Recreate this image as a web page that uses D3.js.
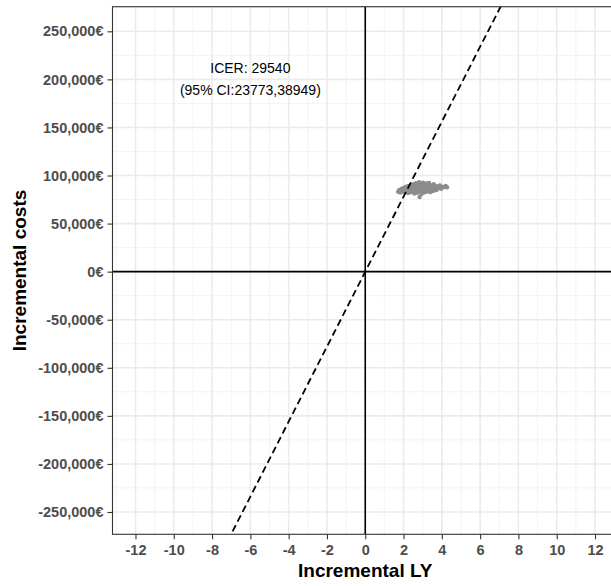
<!DOCTYPE html>
<html>
<head>
<meta charset="utf-8">
<script src="https://cdn.jsdelivr.net/npm/d3@7"></script>
<style>
  body { margin: 0; background: white; }
  text { font-family: "Liberation Sans", Arial, sans-serif; }
</style>
</head>
<body>
<div id="viz"></div>
<script>
// incremental life years / incremental costs of the simulations
var incLY = [1.72,1.78,1.84,1.90,1.95,2.00,2.03,2.08,2.12,2.15,2.19,2.23,2.26,2.30,2.33,2.36,
    2.40,2.43,2.46,2.49,2.52,2.55,2.57,2.60,2.63,2.65,2.68,2.71,2.73,2.76,2.79,2.82,2.84,2.86,
    2.89,2.91,2.94,2.96,2.99,3.02,3.04,3.07,3.10,3.13,3.15,3.18,3.21,3.24,3.27,3.30,3.33,3.36,
    3.39,3.42,3.46,3.50,3.54,3.58,3.62,3.67,3.72,3.78,3.84,3.90,3.97,4.05,4.12,4.20,4.27,
    2.25,2.45,2.58,2.70,2.78,2.92,3.00,3.12,3.25,3.35,3.48,2.62,2.88,3.08,3.20,2.40,2.15,2.50];
var incCosts = [83100,85000,82400,86200,84000,87100,82900,85600,88400,83700,86900,81800,89200,84800,87600,82500,
    90100,85900,88700,83200,91000,86400,81200,89500,84300,92000,87300,82000,90600,85100,88000,93100,77600,83600,
    91400,86700,80900,89900,84600,92500,87800,82300,90300,85400,88900,83000,91700,86100,89300,84100,92200,87000,
    82700,90000,85700,88200,83800,91000,86500,89000,84900,88700,87000,89600,86300,88200,87900,89100,87800,
    86000,84000,87000,85500,90000,88000,86000,87500,84500,89500,86800,82800,84000,83500,90800,87500,85500,89000];

var xTicks = [-12,-10,-8,-6,-4,-2,0,2,4,6,8,10,12],
    yTicks = [-250000,-200000,-150000,-100000,-50000,0,50000,100000,150000,200000,250000];

var icer = 29540, ciLow = 23773, ciHigh = 38949;
var wtp = 39000; // threshold line slope
var annotX = -6, annotY = 200000;

var width = 611,
    height = 586,
    panel = { left: 112.5, right: 618, top: 6.7, bottom: 534.3 };

var xScale = d3.scaleLinear().domain([-13.2, 13.2]).range([panel.left, panel.right]);
var yScale = d3.scaleLinear().domain([-273200, 275600]).range([panel.bottom, panel.top]);

var svg = d3.select('#viz').append('svg')
    .attr('width', width)
    .attr('height', height);

svg.append('defs').append('clipPath').attr('id', 'clip')
  .append('rect')
    .attr('x', panel.left).attr('y', panel.top)
    .attr('width', panel.right - panel.left)
    .attr('height', panel.bottom - panel.top);

var plot = svg.append('g').attr('clip-path', 'url(#clip)');

// minor grid
var xMinor = d3.range(-13, 14, 1).filter(function(d) { return d % 2 !== 0; });
var yMinor = d3.range(-275000, 275001, 25000).filter(function(d) { return d % 50000 !== 0; });

plot.selectAll('.xminor').data(xMinor).enter().append('line')
    .attr('x1', function(d) { return xScale(d); }).attr('x2', function(d) { return xScale(d); })
    .attr('y1', panel.top).attr('y2', panel.bottom)
    .attr('stroke', '#f2f2f2').attr('stroke-width', 0.9);
plot.selectAll('.yminor').data(yMinor).enter().append('line')
    .attr('y1', function(d) { return yScale(d); }).attr('y2', function(d) { return yScale(d); })
    .attr('x1', panel.left).attr('x2', panel.right)
    .attr('stroke', '#f2f2f2').attr('stroke-width', 0.9);

// major grid
plot.selectAll('.xmajor').data(xTicks).enter().append('line')
    .attr('x1', function(d) { return xScale(d); }).attr('x2', function(d) { return xScale(d); })
    .attr('y1', panel.top).attr('y2', panel.bottom)
    .attr('stroke', '#ebebeb').attr('stroke-width', 1.6);
plot.selectAll('.ymajor').data(yTicks).enter().append('line')
    .attr('y1', function(d) { return yScale(d); }).attr('y2', function(d) { return yScale(d); })
    .attr('x1', panel.left).attr('x2', panel.right)
    .attr('stroke', '#ebebeb').attr('stroke-width', 1.6);

// zero axes
plot.append('line')
    .attr('x1', xScale(0)).attr('x2', xScale(0))
    .attr('y1', panel.top).attr('y2', panel.bottom)
    .attr('stroke', 'black').attr('stroke-width', 1.6);
plot.append('line')
    .attr('y1', yScale(0)).attr('y2', yScale(0))
    .attr('x1', panel.left).attr('x2', panel.right)
    .attr('stroke', 'black').attr('stroke-width', 1.6);

// points
plot.selectAll('circle').data(incLY).enter().append('circle')
    .attr('cx', function(d) { return xScale(d); })
    .attr('cy', function(d, i) { return yScale(incCosts[i]); })
    .attr('r', 2.2)
    .attr('fill', '#8c8c8c');

// threshold line
plot.append('line')
    .attr('x1', xScale(-13.2)).attr('y1', yScale(-13.2 * wtp))
    .attr('x2', xScale(13.2)).attr('y2', yScale(13.2 * wtp))
    .attr('stroke', 'black').attr('stroke-width', 1.8)
    .attr('stroke-dasharray', '7,4');

// annotation
var annot = plot.append('text')
    .attr('x', xScale(annotX))
    .attr('y', yScale(annotY))
    .attr('text-anchor', 'middle')
    .style('font-size', '14px')
    .attr('fill', 'black');
annot.append('tspan').attr('x', xScale(annotX)).attr('dy', '-0.45em')
    .text('ICER: ' + icer);
annot.append('tspan').attr('x', xScale(annotX)).attr('dy', '1.55em')
    .text('(95% CI:' + ciLow + ',' + ciHigh + ')');

// panel border
svg.append('rect')
    .attr('x', panel.left).attr('y', panel.top)
    .attr('width', panel.right - panel.left)
    .attr('height', panel.bottom - panel.top)
    .attr('fill', 'none')
    .attr('stroke', '#333333').attr('stroke-width', 1.1);

// axes (plain hyphen for negatives, like the original)
var fmt = d3.formatLocale({ decimal: '.', thousands: ',', grouping: [3], currency: ['', '€'], minus: '-' }).format(',');
var xAxis = svg.append('g')
    .attr('transform', 'translate(0,' + panel.bottom + ')')
    .call(d3.axisBottom(xScale).tickValues(xTicks).tickSize(5).tickPadding(5)
        .tickFormat(function(d) { return fmt(d); }));
var yAxis = svg.append('g')
    .attr('transform', 'translate(' + panel.left + ',0)')
    .call(d3.axisLeft(yScale).tickValues(yTicks).tickSize(5).tickPadding(4)
        .tickFormat(function(d) { return fmt(d) + '€'; }));

[xAxis, yAxis].forEach(function(ax) {
    ax.select('.domain').remove();
    ax.selectAll('line').attr('stroke', '#333333').attr('stroke-width', 1.1);
    ax.selectAll('text')
        .attr('fill', '#4d4d4d')
        .style('font-size', '14.5px')
        .style('font-weight', 'bold')
        .style('font-family', '"Liberation Sans", Arial, sans-serif');
});

// axis titles
svg.append('text')
    .attr('x', (panel.left + panel.right) / 2)
    .attr('y', 577)
    .attr('text-anchor', 'middle')
    .style('font-size', '19px')
    .style('font-weight', 'bold')
    .text('Incremental LY');

svg.append('text')
    .attr('transform', 'translate(26,' + (panel.top + panel.bottom) / 2 + ') rotate(-90)')
    .attr('text-anchor', 'middle')
    .style('font-size', '19px')
    .style('font-weight', 'bold')
    .text('Incremental costs');
</script>
</body>
</html>
